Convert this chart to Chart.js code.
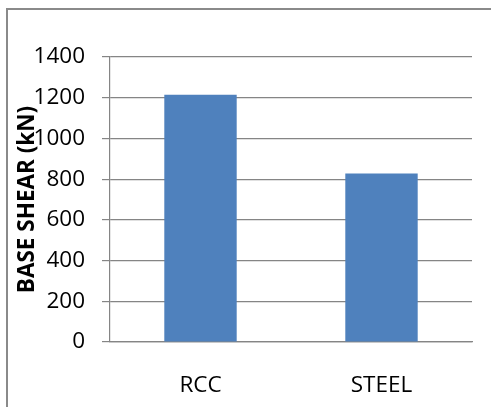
<!DOCTYPE html>
<html>
<head>
<meta charset="utf-8">
<script src="https://cdn.jsdelivr.net/npm/chart.js@4"></script>
<style>
  html, body { margin: 0; padding: 0; background: #fff; }
  #wrap { position: relative; width: 491px; height: 407px; overflow: hidden; }
  #frame { position: absolute; left: 6px; top: 8px; width: 600px; height: 500px;
           border-left: 2px solid #8a8a8a; border-top: 2px solid #8a8a8a; }
  #shearChart { position: absolute; left: 0; top: 0; }
</style>
</head>
<body>
<div id="wrap">
  <div id="frame"></div>
  <canvas id="shearChart" width="491" height="407"></canvas>
</div>
<script>
const categories = ['RCC', 'STEEL'];
const baseShear = [1215, 828];
const yTicks = [0, 200, 400, 600, 800, 1000, 1200, 1400];
const yTitle = 'BASE SHEAR (kN)';

const gridColor = '#858585';
const barColor = '#4F81BD';
const tickFont = { family: 'Open Sans', size: 22.5 };

// rotated axis title, sits over the tick labels like the original sheet chart
const axisTitle = {
  id: 'axisTitle',
  afterDraw(chart) {
    const ctx = chart.ctx;
    const area = chart.chartArea;
    ctx.save();
    ctx.translate(28, (area.top + area.bottom) / 2);
    ctx.rotate(-Math.PI / 2);
    ctx.font = 'bold 22.5px "Open Sans"';
    ctx.fillStyle = '#000';
    ctx.textAlign = 'center';
    ctx.textBaseline = 'middle';
    ctx.fillText(yTitle, 0, 0);
    ctx.restore();
  }
};

new Chart(document.getElementById('shearChart'), {
  type: 'bar',
  data: {
    labels: categories,
    datasets: [{
      label: yTitle,
      data: baseShear,
      backgroundColor: barColor,
      borderWidth: 0,
      categoryPercentage: 0.8,
      barPercentage: 0.5
    }]
  },
  options: {
    responsive: false,
    animation: false,
    layout: { padding: { left: 30, right: 19, top: 57, bottom: 0 } },
    plugins: {
      legend: { display: false },
      tooltip: { enabled: false }
    },
    scales: {
      x: {
        grid: { display: false, drawTicks: false },
        border: { display: true, color: gridColor, width: 1.2 },
        ticks: { font: tickFont, color: '#000', padding: 30 },
        afterFit: s => { s.height = 65; }
      },
      y: {
        min: 0,
        max: 1400,
        afterBuildTicks: s => { s.ticks = yTicks.map(v => ({ value: v })); },
        grid: { color: gridColor, lineWidth: 1.2, tickLength: 8 },
        border: { display: true, color: gridColor, width: 1.2 },
        ticks: { font: tickFont, color: '#000', padding: 17, callback: v => String(v) },
        afterFit: s => { s.width = 80; }
      }
    }
  },
  plugins: [axisTitle]
});
</script>
</body>
</html>
